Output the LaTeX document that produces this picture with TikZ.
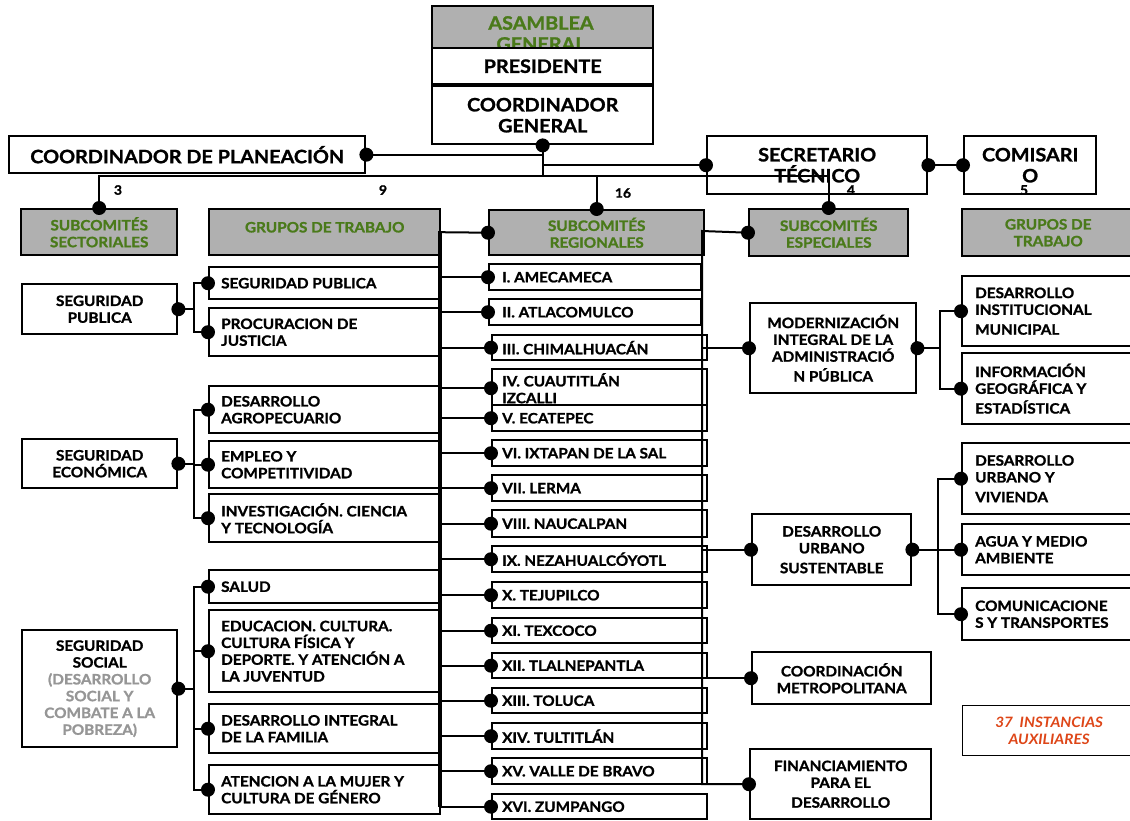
\documentclass[tikz,border=0pt]{standalone}
\usepackage{fontspec}
\setmainfont{Lato}[FakeStretch=1.07, BoldFeatures={FakeBold=1.2}]
\definecolor{hgreen}{RGB}{74,122,26}
\definecolor{hgray}{RGB}{176,176,176}
\definecolor{auxred}{RGB}{222,70,24}
\definecolor{subgray}{RGB}{150,150,150}
\tikzset{
  x=1pt, y=-1pt,
  wb/.style={draw=black, line width=2.4pt, fill=white, inner sep=0pt},
  gb/.style={wb, fill=hgray},
  thinb/.style={draw=black, line width=1.2pt, fill=white, inner sep=0pt},
  mt/.style={inner sep=0pt, font=\bfseries\fontsize{14.3}{16.8}\selectfont},
  tt/.style={inner sep=0pt, font=\bfseries\fontsize{18.5}{21}\selectfont},
  ht/.style={mt, text=hgreen},
  auxt/.style={inner sep=0pt, text=auxred, font=\bfseries\itshape\fontsize{14.3}{16.8}\selectfont},
  num/.style={inner sep=0pt, font=\bfseries\fontsize{13}{14}\selectfont},
  conn/.style={line width=2pt},
  lbusline/.style={line width=3.5pt},
}
\newcommand\cbx[8]{%
  \pgfmathsetmacro\bxw{#4-#2}\pgfmathsetmacro\bxh{#5-#3}%
  \node[#6, anchor=north west, minimum width=\bxw pt, minimum height=\bxh pt] (#1) at (#2,#3) {};
  \node[#7, align=center] (#1t) at (#1.center) {#8};}
\newcommand\lbx[9]{%
  \pgfmathsetmacro\bxw{#4-#2}\pgfmathsetmacro\bxh{#5-#3}%
  \node[#6, anchor=north west, minimum width=\bxw pt, minimum height=\bxh pt] (#1) at (#2,#3) {};
  \node[#7, align=left, anchor=west] (#1t) at ([xshift=#8pt]#1.west) {#9};}
\newcommand\pdot[1]{\fill (#1) circle[radius=7pt];}
\begin{document}
\begin{tikzpicture}
\useasboundingbox (0,0) rectangle (1130,820);
\clip (0,0) rectangle (1130,820);
\fill[white] (0,0) rectangle (1130,820);
% ---------- top ----------
\cbx{asam}{431}{5}{652}{47}{gb}{tt}{}
\node[tt, text=hgreen] (asam1) at (541,23) {ASAMBLEA};
\node[tt, text=hgreen] (asam2) at (541,44) {GENERAL};
\cbx{pres}{431}{47}{652}{83}{wb}{tt}{PRESIDENTE}
\cbx{cg}{431}{85}{652}{143}{wb}{tt}{COORDINADOR\\GENERAL}
\cbx{plan}{8}{135}{364}{172}{wb}{tt}{COORDINADOR DE PLANEACIÓN}
\cbx{sec}{706}{135}{926}{193}{wb}{tt}{SECRETARIO\\TÉCNICO}
\cbx{com}{963}{135}{1095}{193}{wb}{tt}{COMISARI\\O}
% ---------- headers ----------
\cbx{hsec}{20}{208}{176}{254}{gb}{ht}{SUBCOMITÉS\\SECTORIALES}
\cbx{hgt}{208}{208}{439}{254}{gb}{ht}{\raisebox{5pt}[\height][0pt]{GRUPOS DE TRABAJO}}
\cbx{hreg}{488}{209}{703}{254}{gb}{ht}{SUBCOMITÉS\\REGIONALES}
\cbx{hesp}{748}{208}{907}{255}{gb}{ht}{SUBCOMITÉS\\ESPECIALES}
\cbx{hgt2}{961}{208}{1133}{255}{gb}{ht}{GRUPOS DE\\TRABAJO}
% ---------- left column ----------
\cbx{sp}{21}{283}{176}{333}{wb}{mt}{SEGURIDAD\\PUBLICA}
\cbx{se}{21}{438}{176}{487}{wb}{mt}{SEGURIDAD\\ECONÓMICA}
\cbx{ss}{21}{629}{176}{746}{wb}{mt}{SEGURIDAD\\SOCIAL\\\textcolor{subgray}{(DESARROLLO}\\\textcolor{subgray}{SOCIAL Y}\\\textcolor{subgray}{COMBATE A LA}\\\textcolor{subgray}{POBREZA)}}
% ---------- groups ----------
\lbx{g1}{208}{266}{439}{298}{wb}{mt}{13}{SEGURIDAD PUBLICA}
\lbx{g2}{208}{307}{439}{355}{wb}{mt}{13}{PROCURACION DE\\JUSTICIA}
\lbx{g3}{208}{385}{439}{432}{wb}{mt}{13}{DESARROLLO\\AGROPECUARIO}
\lbx{g4}{208}{440}{439}{487}{wb}{mt}{13}{EMPLEO Y\\COMPETITIVIDAD}
\lbx{g5}{208}{493}{439}{541}{wb}{mt}{13}{INVESTIGACIÓN. CIENCIA\\Y TECNOLOGÍA}
\lbx{g6}{208}{569}{439}{602}{wb}{mt}{13}{SALUD}
\lbx{g7}{208}{609}{439}{691}{wb}{mt}{13}{EDUCACION. CULTURA.\\CULTURA FÍSICA Y\\DEPORTE. Y ATENCIÓN A\\LA JUVENTUD}
\lbx{g8}{208}{703}{439}{752}{wb}{mt}{13}{DESARROLLO INTEGRAL\\DE LA FAMILIA}
\lbx{g9}{208}{764}{439}{813}{wb}{mt}{13}{ATENCION A LA MUJER Y\\CULTURA DE GÉNERO}
% ---------- regional ----------
\lbx{reg1}{488}{263}{700}{289}{wb}{mt}{14}{I. AMECAMECA}
\lbx{reg2}{488}{298}{700}{324}{wb}{mt}{14}{II. ATLACOMULCO}
\lbx{reg3}{491}{334}{706}{359}{wb}{mt}{11}{III. CHIMALHUACÁN}
\lbx{reg4}{491}{368}{706}{406}{wb}{mt}{11}{IV. CUAUTITLÁN\\IZCALLI}
\lbx{reg5}{491}{404}{706}{430}{wb}{mt}{11}{V. ECATEPEC}
\lbx{reg6}{491}{439}{706}{465}{wb}{mt}{11}{VI. IXTAPAN DE LA SAL}
\lbx{reg7}{491}{474}{706}{500}{wb}{mt}{11}{VII. LERMA}
\lbx{reg8}{491}{509}{706}{536}{wb}{mt}{11}{VIII. NAUCALPAN}
\lbx{reg9}{491}{545}{706}{571}{wb}{mt}{11}{IX. NEZAHUALCÓYOTL}
\lbx{reg10}{491}{581}{706}{607}{wb}{mt}{11}{X. TEJUPILCO}
\lbx{reg11}{491}{617}{706}{642}{wb}{mt}{11}{XI. TEXCOCO}
\lbx{reg12}{491}{652}{706}{677}{wb}{mt}{11}{XII. TLALNEPANTLA}
\lbx{reg13}{491}{687}{706}{712}{wb}{mt}{11}{XIII. TOLUCA}
\lbx{reg14}{491}{722}{706}{748}{wb}{mt}{11}{XIV. TULTITLÁN}
\lbx{reg15}{491}{757}{706}{783}{wb}{mt}{11}{XV. VALLE DE BRAVO}
\lbx{reg16}{491}{793}{706}{818}{wb}{mt}{11}{XVI. ZUMPANGO}
% ---------- especiales ----------
\cbx{mod}{749}{302}{915}{392}{wb}{mt}{MODERNIZACIÓN\\INTEGRAL DE LA\\ADMINISTRACIÓ\\[3pt]N PÚBLICA}
\cbx{dus}{751}{513}{910}{584}{wb}{mt}{DESARROLLO\\URBANO\\[3pt]SUSTENTABLE}
\cbx{cm}{751}{651}{930}{703}{wb}{mt}{COORDINACIÓN\\METROPOLITANA}
\cbx{fin}{749}{748}{930}{818}{wb}{mt}{FINANCIAMIENTO\\PARA EL\\[3pt]DESARROLLO}
% ---------- right groups ----------
\lbx{w1}{961}{275}{1135}{345}{wb}{mt}{14}{DESARROLLO\\INSTITUCIONAL\\[3pt]MUNICIPAL}
\lbx{w2}{961}{352}{1135}{423}{wb}{mt}{14}{INFORMACIÓN\\GEOGRÁFICA Y\\[3pt]ESTADÍSTICA}
\lbx{w3}{961}{442}{1135}{513}{wb}{mt}{14}{DESARROLLO\\URBANO Y\\[3pt]VIVIENDA}
\lbx{w4}{961}{523}{1135}{574}{wb}{mt}{14}{AGUA Y MEDIO\\AMBIENTE}
\lbx{w5}{961}{587}{1135}{639}{wb}{mt}{14}{COMUNICACIONE\\S Y TRANSPORTES}
\cbx{aux}{962}{705}{1135}{755}{thinb}{auxt}{37\ \ INSTANCIAS\\AUXILIARES}
% ---------- top connectors ----------
\coordinate (busy) at (0,176);
\draw[conn] (hsec.north) -- (hsec.north |- busy) -- (hesp.north |- busy) -- (hesp.north);
\draw[conn] (hreg.north) -- (hreg.north |- busy);
\draw[conn] (cg.south) -- (cg.south |- busy);
\draw[conn] (plan.east) -- (plan.east -| cg.south);
\draw[conn] (cg.south |- sec.west) -- (sec.west);
\draw[conn] (sec.east) -- (com.west);
% ---------- numbers ----------
\node[num] (n3) at (118,190) {3};
\node[num] (n9) at (383,190) {9};
\node[num] (n16) at (623,193) {16};
\node[num] (n4) at (851,190) {4};
\node[num] (n5) at (1024,190) {5};
% ---------- left elbows ----------
\foreach \g in {g1,g2} {\draw[conn] (sp.east) -- ++(16,0) |- (\g.west);}
\foreach \g in {g3,g4,g5} {\draw[conn] (se.east) -- ++(16,0) |- (\g.west);}
\foreach \g in {g6,g7,g8,g9} {\draw[conn] (ss.east) -- ++(16,0) |- (\g.west);}
% ---------- regional bus ----------
\coordinate (lb) at (440,231);
\draw[conn] (hgt.east) -- (hreg.west);
\draw[lbusline] (lb) -- (lb |- reg16.west);
\foreach \r in {1,...,16} {\draw[conn] (lb |- reg\r.west) -- (reg\r.west);}
% ---------- especiales bus ----------
\coordinate (eb) at (702,231);
\draw[conn] (hesp.west) -- (eb) -- (eb |- fin.west) -- (fin.west);
\foreach \e in {mod,dus,cm} {\draw[conn] (eb |- \e.west) -- (\e.west);}
% ---------- right elbows ----------
\foreach \w in {w1,w2} {\draw[conn] (mod.east) -- ++(23,0) |- (\w.west);}
\foreach \w in {w3,w4,w5} {\draw[conn] (dus.east) -- ++(26,0) |- (\w.west);}
% ---------- dots ----------
\foreach \p in {cg.south, plan.east, sec.west, sec.east, com.west,
  hsec.north, hreg.north, hesp.north, hreg.west, hesp.west,
  sp.east, se.east, ss.east,
  g1.west, g2.west, g3.west, g4.west, g5.west, g6.west, g7.west, g8.west, g9.west,
  mod.west, mod.east, dus.west, dus.east, cm.west, fin.west,
  w1.west, w2.west, w3.west, w4.west, w5.west} {\pdot{\p}}
\foreach \r in {1,...,16} {\pdot{reg\r.west}}
\end{tikzpicture}
\end{document}
